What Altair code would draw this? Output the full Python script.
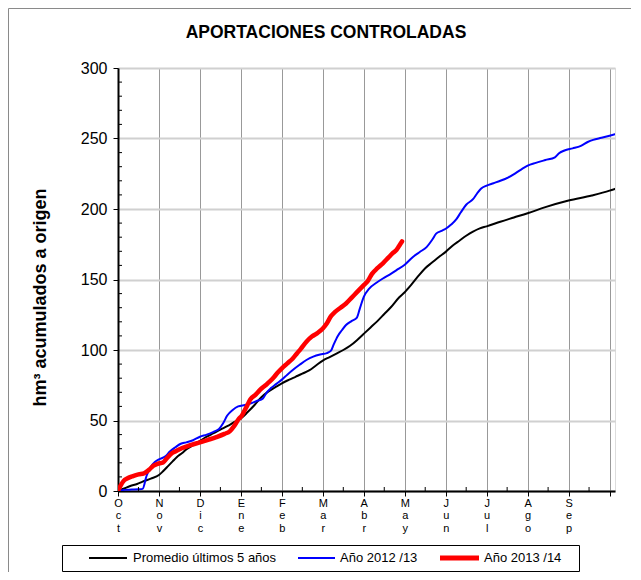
import json
import altair as alt
import pandas as pd

# ---------------- data ----------------
chart_title = "APORTACIONES CONTROLADAS"
y_title = "hm³ acumulados a origen"
series_names = ["Promedio últimos 5 años", "Año 2012 /13", "Año 2013 /14"]
month_labels = ["Oct", "Nov", "Dic", "Ene", "Feb", "Mar", "Abr", "May", "Jun", "Jul", "Ago", "Sep", ""]
month_days = [0, 30, 60, 90, 120, 150, 180, 210, 240, 270, 300, 330, 360]
mid_month_days = [15, 45, 75, 105, 135, 165, 195, 225, 255, 285, 315, 345]
y_ticks = [0, 50, 100, 150, 200, 250, 300]
y_minor = [v for v in range(10, 300, 10) if v % 50 != 0]

prom_days = [0, 5, 9, 14, 18, 24, 30, 33, 37, 40, 43, 47, 50, 55, 60, 65, 70, 75, 80, 85, 90,
             95, 100, 105, 110, 115, 120, 125, 130, 135, 140, 145, 150, 155, 160, 165, 170,
             175, 180, 185, 190, 195, 200, 206, 210, 215, 220, 225, 230, 235, 240, 245, 250,
             255, 260, 265, 270, 280, 290, 300, 313, 330, 347, 360, 364]
prom_vals = [0, 2, 3.5, 5, 6.6, 8.8, 11.3, 14, 18, 21, 24, 27, 29.5, 32.5, 35.5, 38.5, 41, 43.6, 46, 48.8, 51.5,
             56, 61, 66.5, 70.5, 73.5, 76.4, 78.8, 81, 83.2, 85.5, 89, 92.5, 95, 97.5, 100, 103,
             107, 111.5, 116, 120.5, 125.5, 130.5, 137.4, 141, 146.5, 152.5, 158, 162, 166, 169.6, 174, 177.5,
             181, 184, 186.3, 187.7, 191, 194, 197, 201.3, 206, 209.6, 213, 214.3]

a12_days = [0, 5, 10, 15, 18, 21, 24, 27, 30, 35, 38, 42, 46, 50, 55, 60, 65, 70, 74, 77, 80, 84, 88,
            93, 97, 102, 106, 109, 112, 116, 120, 124, 128, 133, 138, 143, 148, 153, 156, 158, 161,
            164, 167, 171, 175, 177, 180, 184, 189, 194, 199, 204, 210, 216, 221, 226, 230, 233,
            237, 240, 244, 248, 251, 255, 260, 263, 266, 270, 275, 280, 286, 291, 296, 300, 306,
            313, 320, 323, 327, 333, 339, 344, 348, 354, 360, 364]
a12_vals = [0, 0.8, 1, 1.2, 1.5, 11, 17, 20.5, 22.4, 24.8, 28, 31, 33.5, 34.5, 36, 38.5, 40, 42, 44, 48, 53.5, 57.5, 60,
            61, 62, 64, 65.5, 70, 73, 76, 79, 82.5, 85.8, 89.5, 92.9, 95.3, 96.8, 97.8, 99.5, 104, 110,
            114, 117.7, 120.5, 123, 129, 137.7, 143.6, 147.5, 150.7, 153.5, 156.6, 160.5, 166, 169.5, 173, 178, 182.5,
            184.5, 186, 189, 193, 197.5, 203, 207, 211, 214.5, 216.6, 218.3, 220, 222.5, 225.3, 228.5, 230.7, 232.7,
            234.7, 236.6, 239.5, 241.5, 243, 244.8, 247.5, 249, 250.5, 252, 253]

a13_days = [0, 2, 4, 7, 11, 15, 19, 23, 26, 29, 33, 36, 39, 43, 47, 53, 60, 66, 72, 78, 82, 85, 88,
            91, 94, 97, 101, 104, 108, 111, 114, 117, 120, 124, 128, 131, 134, 138, 142, 146, 150,
            153, 156, 159, 163, 167, 171, 175, 180, 183, 186, 190, 194, 198, 201, 204, 206, 208]
a13_vals = [0, 4, 7, 9, 10.6, 11.8, 12.5, 15.3, 18, 19.3, 20.3, 23.5, 26.5, 28.5, 30.5, 32.5, 34.5, 36.3, 38.2, 40.5, 42.5, 46, 50.5,
            54, 59.5, 65, 68.5, 71.7, 75, 77.5, 80.5, 84, 87, 90.5, 94, 97.5, 101, 105.9, 109.5, 112, 115.3,
            119, 124, 127, 130, 133, 137, 141, 146, 149, 154, 158, 161.5, 165.5, 168.5, 171, 174, 177]

series_colors = ["#000000", "#0000ff", "#ff0000"]
series_widths = [2, 2, 4.5]

# ---------------- layout constants ----------------
W, H = 497, 423
PAD = {"left": 110, "top": 60, "right": 16, "bottom": 81}
FONT = "Liberation Sans"
legend_line_x = [(-29, 9), (180, 217), (322, 361)]
legend_text_x = [15, 222, 366]
legend_y = 490
legend_box = (-56, 461, 477, 503)

xscale = alt.Scale(domain=[0, 364], nice=False, zero=False)
yscale = alt.Scale(domain=[0, 300], nice=False)

label_expr = "split(" + json.dumps(month_labels) + "[round(datum.value/30)], '')"

x_axis = alt.Axis(values=month_days, labelExpr=label_expr, title=None,
                  grid=True, gridColor="#999999", gridWidth=1,
                  domainColor="#000000", domainWidth=2,
                  tickColor="#000000", tickSize=5, tickWidth=1,
                  labelFontSize=11, labelLineHeight=12.5, labelColor="#000000",
                  labelFont=FONT, labelPadding=1, labelBaseline="top",
                  labelAlign="center", labelOverlap=False, labelFlush=False)
y_axis = alt.Axis(values=y_ticks, title=y_title,
                  grid=True, gridColor="#d0d0d0", gridWidth=2,
                  domainColor="#000000", domainWidth=2,
                  tickColor="#000000", tickSize=5, tickWidth=1,
                  labelFontSize=16, labelColor="#000000", labelFont=FONT,
                  labelPadding=6,
                  titleFont=FONT, titleFontSize=18, titleFontWeight="bold",
                  titleColor="#000000", titleX=-78, titleY=229,
                  titleAlign="center", titleBaseline="middle", titleAngle=270)

layers = []
for name, ds, vs, col, sw in zip(series_names, [prom_days, a12_days, a13_days],
                                 [prom_vals, a12_vals, a13_vals], series_colors, series_widths):
    sdf = pd.DataFrame({"dia": ds, "valor": vs})
    layers.append(
        alt.Chart(sdf).mark_line(interpolate="monotone", clip=True, color=col, strokeWidth=sw,
                                 strokeCap="round", strokeJoin="round").encode(
            x=alt.X("dia:Q", scale=xscale, axis=x_axis),
            y=alt.Y("valor:Q", scale=yscale, axis=y_axis),
            order=alt.Order("dia:Q"),
        )
    )

ymin = alt.Chart(pd.DataFrame({"valor": y_minor})).mark_rule(color="#000000", strokeWidth=1).encode(
    y=alt.Y("valor:Q", scale=yscale, axis=y_axis),
    x=alt.value(0), x2=alt.value(4),
)
xmin = alt.Chart(pd.DataFrame({"dia": mid_month_days})).mark_rule(color="#000000", strokeWidth=1).encode(
    x=alt.X("dia:Q", scale=xscale, axis=x_axis),
    y=alt.value(H), y2=alt.value(H - 4),
)

one = pd.DataFrame({"a": [0]})
deco = []
# outer frame (left and top edges visible)
deco.append(alt.Chart(one).mark_rule(color="#8a8a8a", strokeWidth=1).encode(
    x=alt.value(-109.5), y=alt.value(-59.5), y2=alt.value(H + 95)))
deco.append(alt.Chart(one).mark_rule(color="#8a8a8a", strokeWidth=1).encode(
    x=alt.value(-109.5), x2=alt.value(W + 40), y=alt.value(-59.5)))
# title
deco.append(alt.Chart(one).mark_text(text=chart_title, font=FONT, fontSize=17.5, fontWeight="bold",
                                     color="#000000", align="center", baseline="middle").encode(
    x=alt.value(208), y=alt.value(-35)))
# legend box
bx0, bx1, by0, by1 = legend_box
deco.append(alt.Chart(one).mark_rect(fill="#ffffff", stroke="#000000", strokeWidth=1).encode(
    x=alt.value(bx0 + 0.5), x2=alt.value(bx1 + 0.5), y=alt.value(by0 + 0.5), y2=alt.value(by1 + 0.5)))
for name, col, sw, (lx0, lx1), tx in zip(series_names, series_colors, series_widths,
                                         legend_line_x, legend_text_x):
    deco.append(alt.Chart(one).mark_rule(color=col, strokeWidth=sw + (0.5 if sw > 3 else 0)).encode(
        x=alt.value(lx0), x2=alt.value(lx1), y=alt.value(legend_y)))
    deco.append(alt.Chart(one).mark_text(text=name, font=FONT, fontSize=13, color="#000000",
                                         align="left", baseline="middle").encode(
        x=alt.value(tx), y=alt.value(legend_y)))

chart = alt.layer(*layers, ymin, xmin, *deco).properties(
    width=W, height=H,
    autosize=alt.AutoSizeParams(type="none"),
    padding=PAD,
).configure_view(
    stroke="#999999", strokeWidth=1
).configure(background="#ffffff")

chart.save("out.html", embed_options={"renderer": "svg", "actions": False})
